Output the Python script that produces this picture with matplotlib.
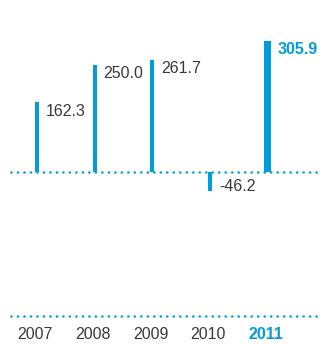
import numpy as np
import matplotlib.pyplot as plt
import matplotlib.transforms as mtransforms

years = ['2007', '2008', '2009', '2010', '2011']
values = [162.3, 250.0, 261.7, -46.2, 305.9]
labels = ['162.3', '250.0', '261.7', '-46.2', '305.9']

blue = '#009ddc'
grey = '#3a3a3a'

plt.rcParams['font.family'] = ['Liberation Sans', 'DejaVu Sans']

fig = plt.figure(figsize=(3.2, 3.47), dpi=100)
ax = fig.add_axes([0, 0, 1, 1])
ax.set_xlim(-0.641, 4.905)
ax.set_ylim(-410.4, 401.1)
ax.axis('off')

x = np.arange(len(years))
widths = [0.069, 0.069, 0.069, 0.069, 0.115]

# dotted zero line and bottom rule
dots = dict(color=blue, lw=1.9, linestyle=(0, (0.01, 2.45)),
            dash_capstyle='round', zorder=1)
xdata_yaxes = mtransforms.blended_transform_factory(ax.transAxes, ax.transData)
ax.plot([0.035, 1.0], [0, 0], transform=xdata_yaxes, **dots)
ax.plot([0.035, 1.0], [1 - 315.7 / 347] * 2, transform=ax.transAxes, **dots)

ax.bar(x, values, width=widths, color=blue, zorder=2)

for i, (v, lab) in enumerate(zip(values, labels)):
    last = i == len(values) - 1
    dx = widths[i] / 2
    if v >= 0:
        off = mtransforms.offset_copy(ax.transData, fig=fig, x=5, y=-1, units='points')
        va = 'top'
    else:
        off = mtransforms.offset_copy(ax.transData, fig=fig, x=5, y=0, units='points')
        va = 'baseline'
    ax.text(x[i] + dx, v, lab, transform=off, ha='left', va=va, fontsize=11.5,
            color=blue if last else grey, fontweight='bold' if last else 'normal')

# year labels along the bottom
for i, yr in enumerate(years):
    last = i == len(years) - 1
    off = mtransforms.offset_copy(ax.transData, fig=fig, x=-14, y=0, units='points')
    ax.text(x[i], 1 - 334.5 / 347, yr,
            transform=mtransforms.blended_transform_factory(off, ax.transAxes),
            ha='left', va='center', fontsize=11.5,
            color=blue if last else grey, fontweight='bold' if last else 'normal')

fig.savefig('out.png', dpi=100)
